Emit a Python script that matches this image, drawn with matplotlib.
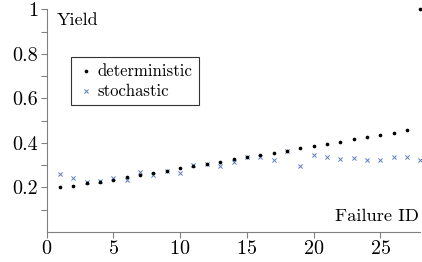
import matplotlib
matplotlib.use("Agg")
import matplotlib.pyplot as plt

plt.rcParams["font.family"] = "cmr10"
plt.rcParams["axes.formatter.use_mathtext"] = True

failure_id = list(range(1, 29))
deterministic = [0.202, 0.207, 0.218, 0.226, 0.233, 0.247, 0.255, 0.265, 0.274, 0.287,
                 0.296, 0.307, 0.316, 0.328, 0.338, 0.344, 0.355, 0.364, 0.377, 0.385,
                 0.397, 0.405, 0.418, 0.425, 0.437, 0.445, 0.456, 1.0]
stochastic = [0.262, 0.241, 0.225, 0.228, 0.242, 0.232, 0.269, 0.255, 0.274, 0.265,
              0.302, 0.305, 0.296, 0.316, 0.338, 0.335, 0.322, 0.364, 0.298, 0.346,
              0.335, 0.326, 0.331, 0.325, 0.322, 0.337, 0.338, 0.325]

W, H = 422, 262
fig = plt.figure(figsize=(W / 100, H / 100), dpi=100)
ax = fig.add_axes([46.7 / W, (H - 232) / H, (420.3 - 46.7) / W, (232 - 9.3) / H])

ax.scatter(failure_id, deterministic, s=7, color="black", marker="o",
           linewidths=0, label="deterministic", zorder=3, clip_on=False)
ax.scatter(failure_id, stochastic, s=9, color="#5b7fbf", marker="x",
           linewidths=0.7, label="stochastic", zorder=2, clip_on=False)

ax.set_xlim(0, 28)
ax.set_ylim(0, 1)
ax.set_xticks([0, 5, 10, 15, 20, 25])
ax.set_yticks([0.2, 0.4, 0.6, 0.8, 1.0])
ax.set_yticklabels(["0.2", "0.4", "0.6", "0.8", "1"])
ax.set_yticks([0.1, 0.3, 0.5, 0.7, 0.9], minor=True)

for s in ["top", "right"]:
    ax.spines[s].set_visible(False)
for s in ["left", "bottom"]:
    ax.spines[s].set_color("#808080")
    ax.spines[s].set_linewidth(0.8)
ax.tick_params(which="both", direction="out", length=4, width=0.8,
               color="#808080", labelsize=14.5, pad=2)

ax.text(0.028, 0.985, "Yield", transform=ax.transAxes, fontsize=13,
        ha="left", va="top")
ax.text(0.995, 0.035, "Failure ID", transform=ax.transAxes, fontsize=13.3,
        ha="right", va="bottom")

leg = ax.legend(loc="upper left", bbox_to_anchor=(24.3 / 373.6, (222.7 - 47.4) / 222.7),
                fontsize=12, frameon=True, fancybox=False, handletextpad=0.2,
                handlelength=1.0, borderpad=0.4, labelspacing=0.28,
                borderaxespad=0, markerscale=1.0)
leg.get_frame().set_edgecolor("black")
leg.get_frame().set_linewidth(0.8)

fig.savefig("out.png", dpi=100)
